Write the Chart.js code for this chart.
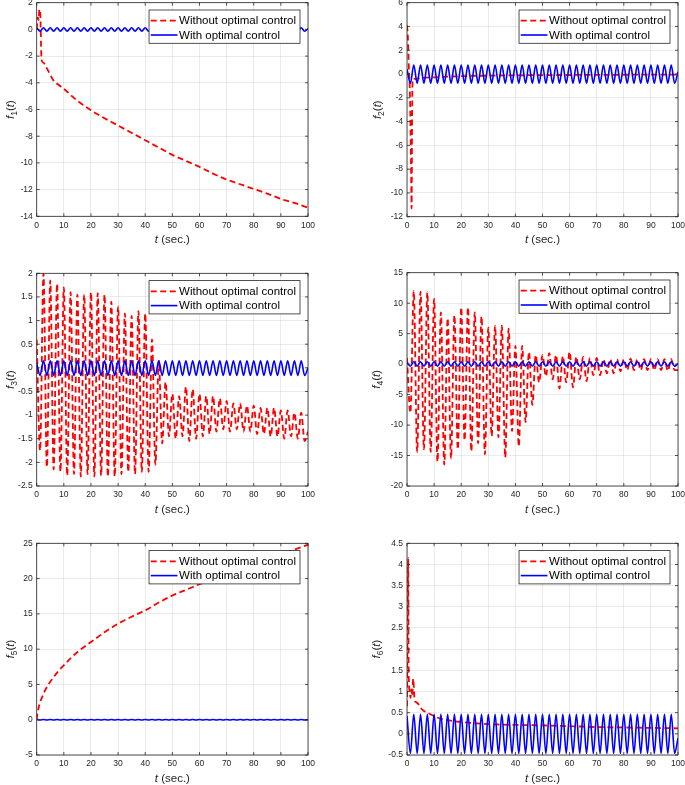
<!DOCTYPE html>
<html>
<head>
<meta charset="utf-8">
<title>f1(t) … f6(t): without / with optimal control</title>
<script src="https://cdn.jsdelivr.net/npm/chart.js@4.4.1/dist/chart.umd.min.js"></script>
<style>
  html, body { margin: 0; padding: 0; background: #fff; }
  body { width: 685px; height: 785px; position: relative; overflow: hidden; }
  #figure { position: absolute; left: 0; top: 0; width: 685px; height: 785px; }
</style>
</head>
<body>
<div id="figure"></div>
<script>
'use strict';

/* ---- 1. Data ---- */
const seriesLabels = ['Without optimal control', 'With optimal control'];
const xTicks = [0, 10, 20, 30, 40, 50, 60, 70, 80, 90, 100];

// peak / trough instants shared by the oscillating curves (sec.)
const tGrid = [
  0, 1.25, 2.5, 3.75, 5, 6.25, 7.5, 8.75,
  10, 11.25, 12.5, 13.75, 15, 16.25, 17.5, 18.75,
  20, 21.25, 22.5, 23.75, 25, 26.25, 27.5, 28.75,
  30, 31.25, 32.5, 33.75, 35, 36.25, 37.5, 38.75,
  40, 41.25, 42.5, 43.75, 45, 46.25, 47.5, 48.75,
  50, 51.25, 52.5, 53.75, 55, 56.25, 57.5, 58.75,
  60, 61.25, 62.5, 63.75, 65, 66.25, 67.5, 68.75,
  70, 71.25, 72.5, 73.75, 75, 76.25, 77.5, 78.75,
  80, 81.25, 82.5, 83.75, 85, 86.25, 87.5, 88.75,
  90, 91.25, 92.5, 93.75, 95, 96.25, 97.5, 98.75,
  100
];

// f1
const f1RedT = [0, 0.4, 0.7, 1.0, 1.3, 1.8, 2.5, 3.7, 5, 6.1, 8, 10, 14.7, 20, 25, 30, 35, 40, 45, 50, 55, 60, 65, 70, 75, 80, 85, 90, 95, 100];
const f1RedY = [0, 0.9, 0.7, 1.5, 1.2, -2.3, -2.5, -2.9, -3.4, -3.8, -4.15, -4.45, -5.3, -6.05, -6.65, -7.2, -7.75, -8.3, -8.85, -9.4, -9.85, -10.3, -10.8, -11.25, -11.6, -11.95, -12.3, -12.7, -13.0, -13.35];
const f1Blue = [
  0.1, -0.14, 0.12, -0.14, 0.12, -0.14, 0.12, -0.14,
  0.12, -0.14, 0.12, -0.14, 0.12, -0.14, 0.12, -0.14,
  0.12, -0.14, 0.12, -0.14, 0.12, -0.14, 0.12, -0.14,
  0.12, -0.14, 0.12, -0.14, 0.12, -0.14, 0.12, -0.14,
  0.12, -0.14, 0.12, -0.14, 0.12, -0.14, 0.12, -0.14,
  0.12, -0.14, 0.12, -0.14, 0.12, -0.14, 0.12, -0.14,
  0.12, -0.14, 0.12, -0.14, 0.12, -0.14, 0.12, -0.14,
  0.12, -0.14, 0.12, -0.14, 0.12, -0.14, 0.12, -0.14,
  0.12, -0.14, 0.12, -0.14, 0.12, -0.14, 0.12, -0.14,
  0.12, -0.14, 0.12, -0.14, 0.12, -0.14, 0.12, -0.14,
  0.05
];

// f2
const f2RedT = [0, 0.3, 0.7, 1.1, 1.5, 1.7, 1.9, 2.2, 3, 5, 7, 10, 15, 20, 30, 40, 50, 60, 80, 100];
const f2RedY = [4.1, 3.2, 0.5, -1.8, -8, -11.3, -3, -0.4, -0.4, -0.35, -0.3, -0.28, -0.22, -0.18, -0.14, -0.11, -0.09, -0.08, -0.06, -0.05];
const f2Blue = [
  0.4, -0.78, 0.75, -0.78, 0.75, -0.78, 0.75, -0.78,
  0.75, -0.78, 0.75, -0.78, 0.75, -0.78, 0.75, -0.78,
  0.75, -0.78, 0.75, -0.78, 0.75, -0.78, 0.75, -0.78,
  0.75, -0.78, 0.75, -0.78, 0.75, -0.78, 0.75, -0.78,
  0.75, -0.78, 0.75, -0.78, 0.75, -0.78, 0.75, -0.78,
  0.75, -0.78, 0.75, -0.78, 0.75, -0.78, 0.75, -0.78,
  0.75, -0.78, 0.75, -0.78, 0.75, -0.78, 0.75, -0.78,
  0.75, -0.78, 0.75, -0.78, 0.75, -0.78, 0.75, -0.78,
  0.75, -0.78, 0.75, -0.78, 0.75, -0.78, 0.75, -0.78,
  0.75, -0.78, 0.75, -0.78, 0.75, -0.78, 0.75, -0.78,
  0.2
];

// f3
const f3Red = [
  0.6, -1.75, 2.0, -2.1, 1.85, -2.15, 1.78, -2.2,
  1.7, -2.28, 1.6, -2.25, 1.55, -2.3, 1.55, -2.25,
  1.6, -2.3, 1.58, -2.28, 1.55, -2.3, 1.4, -2.3,
  1.3, -2.25, 1.15, -2.2, 1.1, -2.25, 1.2, -2.2,
  1.15, -2.2, 0.6, -2.05, 0.15, -1.6, -0.3, -1.45,
  -0.55, -1.5, -0.6, -1.45, -0.4, -1.55, -0.45, -1.5,
  -0.55, -1.45, -0.6, -1.4, -0.6, -1.35, -0.65, -1.3,
  -0.7, -1.35, -0.75, -1.3, -0.75, -1.35, -0.8, -1.35,
  -0.8, -1.4, -0.85, -1.4, -0.85, -1.45, -0.85, -1.45,
  -0.9, -1.5, -0.9, -1.45, -0.95, -1.5, -0.95, -1.55,
  -1.35
];
const f3Blue = [
  0.1, -0.16, 0.15, -0.16, 0.15, -0.16, 0.15, -0.16,
  0.15, -0.16, 0.15, -0.16, 0.15, -0.16, 0.15, -0.16,
  0.15, -0.16, 0.15, -0.16, 0.15, -0.16, 0.15, -0.16,
  0.15, -0.16, 0.15, -0.16, 0.15, -0.16, 0.15, -0.16,
  0.15, -0.16, 0.15, -0.16, 0.15, -0.16, 0.15, -0.16,
  0.15, -0.16, 0.15, -0.16, 0.15, -0.16, 0.15, -0.16,
  0.15, -0.16, 0.15, -0.16, 0.15, -0.16, 0.15, -0.16,
  0.15, -0.16, 0.15, -0.16, 0.15, -0.16, 0.15, -0.16,
  0.15, -0.16, 0.15, -0.16, 0.15, -0.16, 0.15, -0.16,
  0.15, -0.16, 0.15, -0.16, 0.15, -0.16, 0.15, -0.16,
  0
];

// f4
const f4Red = [
  1, -8, 12, -14.4, 11.9, -14, 11.8, -14.4,
  10.7, -16, 8.5, -16.5, 7.5, -15.5, 8, -14,
  9.3, -12.5, 9.3, -14.3, 8.5, -13, 7.8, -14.8,
  6, -11.8, 6.3, -12, 6.3, -15.3, 5.8, -11,
  3, -13.5, 3, -9.5, 2, -6.7, 1.5, -3,
  1.5, -2, 1.8, -2.5, 1.5, -4, 1.3, -3,
  2, -3.8, 1.2, -2.5, 1.2, -2.8, 1, -1.8,
  1, -1.8, 0.8, -1.5, 0.8, -1.5, 0.8, -1.2,
  0.8, -1, 0.9, -1, 0.8, -1, 0.8, -1,
  0.8, -1, 0.8, -1, 0.8, -1.1, 0.8, -1,
  -1
];
const f4Blue = [
  0.3, -0.35, 0.4, -0.35, 0.4, -0.35, 0.4, -0.35,
  0.4, -0.35, 0.4, -0.35, 0.4, -0.35, 0.4, -0.35,
  0.4, -0.35, 0.4, -0.35, 0.4, -0.35, 0.4, -0.35,
  0.4, -0.35, 0.4, -0.35, 0.4, -0.35, 0.4, -0.35,
  0.4, -0.35, 0.4, -0.35, 0.4, -0.35, 0.4, -0.35,
  0.4, -0.35, 0.4, -0.35, 0.4, -0.35, 0.4, -0.35,
  0.4, -0.35, 0.4, -0.35, 0.4, -0.35, 0.4, -0.35,
  0.4, -0.35, 0.4, -0.35, 0.4, -0.35, 0.4, -0.35,
  0.4, -0.35, 0.4, -0.35, 0.4, -0.35, 0.4, -0.35,
  0.4, -0.35, 0.4, -0.35, 0.4, -0.35, 0.4, -0.35,
  0.1
];

// f5
const f5RedT = [0, 0.3, 0.6, 1, 2, 3, 4, 6, 8, 10, 13, 16, 20, 25, 30, 35, 40, 45, 50, 55, 60, 70, 80, 90, 100];
const f5RedY = [0, 1.0, 1.5, 2.2, 3.2, 4.1, 4.8, 5.9, 6.9, 7.7, 8.9, 9.9, 11.0, 12.4, 13.6, 14.6, 15.5, 16.6, 17.6, 18.4, 19.2, 20.6, 22.0, 23.4, 24.8];
const f5Blue = [
  0.04, -0.04, 0.04, -0.04, 0.04, -0.04, 0.04, -0.04,
  0.04, -0.04, 0.04, -0.04, 0.04, -0.04, 0.04, -0.04,
  0.04, -0.04, 0.04, -0.04, 0.04, -0.04, 0.04, -0.04,
  0.04, -0.04, 0.04, -0.04, 0.04, -0.04, 0.04, -0.04,
  0.04, -0.04, 0.04, -0.04, 0.04, -0.04, 0.04, -0.04,
  0.04, -0.04, 0.04, -0.04, 0.04, -0.04, 0.04, -0.04,
  0.04, -0.04, 0.04, -0.04, 0.04, -0.04, 0.04, -0.04,
  0.04, -0.04, 0.04, -0.04, 0.04, -0.04, 0.04, -0.04,
  0.04, -0.04, 0.04, -0.04, 0.04, -0.04, 0.04, -0.04,
  0.04, -0.04, 0.04, -0.04, 0.04, -0.04, 0.04, -0.04,
  0
];

// f6
const f6RedT = [0, 0.2, 0.45, 0.6, 1.0, 1.3, 1.6, 1.9, 2.3, 2.8, 3.3, 4.2, 5, 6, 7.5, 9, 10.5, 13, 17, 20, 25, 30, 40, 50, 60, 70, 80, 90, 100];
const f6RedY = [0.65, 2.5, 4.15, 1.5, 1.0, 0.85, 1.05, 0.9, 1.3, 0.8, 0.75, 0.7, 0.62, 0.55, 0.5, 0.45, 0.4, 0.35, 0.3, 0.28, 0.25, 0.23, 0.21, 0.2, 0.18, 0.16, 0.15, 0.14, 0.13];
const f6Blue = [
  0.42, -0.46, 0.46, -0.46, 0.46, -0.46, 0.46, -0.46,
  0.46, -0.46, 0.46, -0.46, 0.46, -0.46, 0.46, -0.46,
  0.46, -0.46, 0.46, -0.46, 0.46, -0.46, 0.46, -0.46,
  0.46, -0.46, 0.46, -0.46, 0.46, -0.46, 0.46, -0.46,
  0.46, -0.46, 0.46, -0.46, 0.46, -0.46, 0.46, -0.46,
  0.46, -0.46, 0.46, -0.46, 0.46, -0.46, 0.46, -0.46,
  0.46, -0.46, 0.46, -0.46, 0.46, -0.46, 0.46, -0.46,
  0.46, -0.46, 0.46, -0.46, 0.46, -0.46, 0.46, -0.46,
  0.46, -0.46, 0.46, -0.46, 0.46, -0.46, 0.46, -0.46,
  0.46, -0.46, 0.46, -0.46, 0.46, -0.46, 0.46, -0.46,
  -0.1
];

/* ---- 2. Panel layout (plot box in page px) ---- */
const panels = [
  { sub: '1', box: [36.7, 2.7, 271.3, 213.6], y: [-14, 2, 2],    yGap: 26.7, red: [f1RedT, f1RedY], blue: [tGrid, f1Blue] },
  { sub: '2', box: [407, 2.7, 271, 214],      y: [-12, 6, 2],    yGap: 30,   red: [f2RedT, f2RedY], blue: [tGrid, f2Blue] },
  { sub: '3', box: [36.7, 273.3, 271.3, 212.7], y: [-2.5, 2, 0.5], yGap: 26.7, red: [tGrid, f3Red], blue: [tGrid, f3Blue] },
  { sub: '4', box: [407, 272.7, 271, 213.3],  y: [-20, 15, 5],   yGap: 31,   red: [tGrid, f4Red], blue: [tGrid, f4Blue] },
  { sub: '5', box: [36.7, 543.3, 271.3, 211.7], y: [-5, 25, 5],   yGap: 26.7, red: [f5RedT, f5RedY], blue: [tGrid, f5Blue] },
  { sub: '6', box: [407, 543.3, 271, 211.7],  y: [-0.5, 4.5, 0.5], yGap: 31,  red: [f6RedT, f6RedY], blue: [tGrid, f6Blue] },
];

const FONT = "'Liberation Sans', Arial, Helvetica, sans-serif";
const INK = '#262626';
const Y_AXIS_W = 40;
const X_AXIS_H = 30;

/* ---- 3. Helpers ---- */
const toPoints = (xs, ys) => xs.map((x, i) => ({ x, y: ys[i] }));

const fontOf = seg => `${seg.italic ? 'italic ' : ''}${seg.size}px ${FONT}`;

// MATLAB prints 2, 1.5, 1 … rather than 2.0, 1.5, 1.0
const tickText = v => String(+Number(v).toFixed(2));

// draws a run of mixed-style text centred on (x, baselineY)
function drawRich(ctx, segs, x, y) {
  const widths = segs.map(s => { ctx.font = fontOf(s); return ctx.measureText(s.text).width; });
  let cx = x - widths.reduce((a, b) => a + b, 0) / 2;
  segs.forEach((s, i) => {
    ctx.font = fontOf(s);
    ctx.fillText(s.text, cx, y + (s.dy || 0));
    cx += widths[i];
  });
}

/* ---- 4. MATLAB-style frame, ticks, legend and labels ---- */
const matlabFrame = {
  id: 'matlabFrame',
  afterDraw(chart, args, opts) {
    const { ctx, chartArea: a, scales } = chart;
    ctx.save();

    // box + inward ticks
    ctx.strokeStyle = INK;
    ctx.lineWidth = 0.8;
    ctx.strokeRect(a.left, a.top, a.right - a.left, a.bottom - a.top);
    ctx.beginPath();
    scales.x.ticks.forEach((t, i) => {
      const px = scales.x.getPixelForTick(i);
      ctx.moveTo(px, a.bottom); ctx.lineTo(px, a.bottom - 3);
      ctx.moveTo(px, a.top);    ctx.lineTo(px, a.top + 3);
    });
    scales.y.ticks.forEach((t, i) => {
      const py = scales.y.getPixelForTick(i);
      ctx.moveTo(a.left, py);  ctx.lineTo(a.left + 3, py);
      ctx.moveTo(a.right, py); ctx.lineTo(a.right - 3, py);
    });
    ctx.stroke();

    // legend box (top right, inside the axes)
    const lgFont = `11.5px ${FONT}`;
    ctx.font = lgFont;
    const sets = chart.data.datasets;
    const textW = Math.max(...sets.map(d => ctx.measureText(d.label).width));
    const bw = textW + 34, bh = 33.3;
    const bx = a.right - 8 - bw, by = a.top + 7.3;
    ctx.fillStyle = '#fff';
    ctx.fillRect(bx, by, bw, bh);
    ctx.strokeStyle = INK;
    ctx.lineWidth = 0.8;
    ctx.strokeRect(bx, by, bw, bh);
    sets.forEach((d, i) => {
      const ry = by + 10.7 + i * 14.3;
      ctx.save();
      ctx.strokeStyle = d.borderColor;
      ctx.lineWidth = d.borderWidth;
      ctx.setLineDash(d.borderDash || []);
      ctx.beginPath();
      ctx.moveTo(bx + 1.7, ry);
      ctx.lineTo(bx + 28.4, ry);
      ctx.stroke();
      ctx.restore();
      ctx.fillStyle = '#000';
      ctx.font = lgFont;
      ctx.textBaseline = 'middle';
      ctx.textAlign = 'left';
      ctx.fillText(d.label, bx + 30, ry + 0.5);
    });

    // axis labels
    ctx.fillStyle = INK;
    ctx.textBaseline = 'alphabetic';
    ctx.textAlign = 'left';
    drawRich(ctx, [
      { text: 't', size: 11.5, italic: true },
      { text: ' (sec.)', size: 11.5 },
    ], (a.left + a.right) / 2, a.bottom + 26.5);

    ctx.save();
    ctx.translate(a.left - opts.yGap + 4, (a.top + a.bottom) / 2);
    ctx.rotate(-Math.PI / 2);
    drawRich(ctx, [
      { text: 'f', size: 11.5, italic: true },
      { text: opts.sub, size: 8.5, dy: 3 },
      { text: '(', size: 11.5 },
      { text: 't', size: 11.5, italic: true },
      { text: ')', size: 11.5 },
    ], 0, 0);
    ctx.restore();

    ctx.restore();
  }
};

/* ---- 5. Build the six charts ---- */
const fig = document.getElementById('figure');

panels.forEach(p => {
  const [L, T, W, H] = p.box;
  const cx = Math.floor(L) - 46, cy = Math.floor(T) - 14;
  const cw = Math.ceil(W) + 46 + 18, ch = Math.ceil(H) + 14 + 46;

  const canvas = document.createElement('canvas');
  canvas.width = cw;
  canvas.height = ch;
  canvas.style.cssText = `position:absolute;left:${cx}px;top:${cy}px;width:${cw}px;height:${ch}px;`;
  fig.appendChild(canvas);

  const pad = {
    left: L - cx - Y_AXIS_W,
    top: T - cy,
    right: cx + cw - (L + W),
    bottom: cy + ch - (T + H) - X_AXIS_H,
  };

  new Chart(canvas, {
    type: 'line',
    data: {
      datasets: [
        {
          label: seriesLabels[0],
          data: toPoints(p.red[0], p.red[1]),
          borderColor: '#ff0000',
          borderWidth: 1.8,
          borderDash: [6, 3.5],
          order: 1,
        },
        {
          label: seriesLabels[1],
          data: toPoints(p.blue[0], p.blue[1]),
          borderColor: '#0000ff',
          borderWidth: 1.6,
          order: 0,
        }
      ]
    },
    options: {
      responsive: false,
      animation: false,
      devicePixelRatio: 1,
      layout: { padding: pad },
      elements: {
        point: { radius: 0, hoverRadius: 0 },
        line: { cubicInterpolationMode: 'monotone', fill: false, borderCapStyle: 'butt' }
      },
      plugins: {
        legend: { display: false },
        tooltip: { enabled: false },
        matlabFrame: { sub: p.sub, yGap: p.yGap }
      },
      scales: {
        x: {
          type: 'linear',
          min: 0,
          max: 100,
          afterFit: s => { s.height = X_AXIS_H; },
          afterBuildTicks: s => { s.ticks = xTicks.map(v => ({ value: v })); },
          grid: { color: 'rgba(38,38,38,0.12)', drawTicks: false, lineWidth: 0.8 },
          border: { display: false },
          ticks: { color: INK, font: { family: FONT, size: 8.5 }, padding: 4, maxRotation: 0, autoSkip: false, callback: tickText }
        },
        y: {
          type: 'linear',
          min: p.y[0],
          max: p.y[1],
          afterFit: s => { s.width = Y_AXIS_W; },
          grid: { color: 'rgba(38,38,38,0.12)', drawTicks: false, lineWidth: 0.8 },
          border: { display: false },
          ticks: { stepSize: p.y[2], color: INK, font: { family: FONT, size: 8.5 }, padding: 4, autoSkip: false, callback: tickText }
        }
      }
    },
    plugins: [matlabFrame]
  });
});
</script>
</body>
</html>
